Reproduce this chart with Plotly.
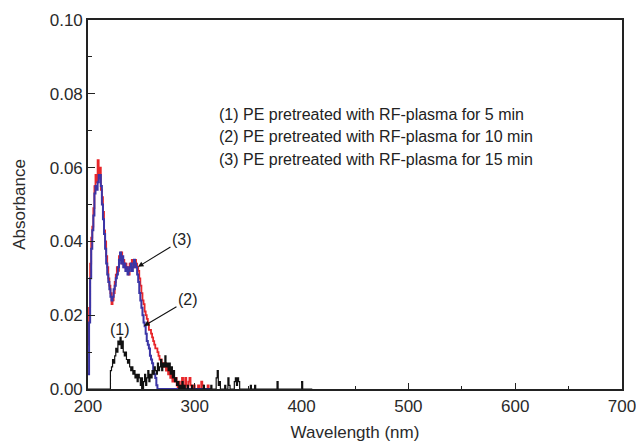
import plotly.graph_objects as go

# Absorbance spectra of PE films after RF-plasma pretreatment
wl = list(range(200, 316))  # wavelength grid, nm (red / blue spectra)

abs_15min = [
    0.012, 0.022, 0.034, 0.041, 0.044, 0.049, 0.055, 0.058, 0.056, 0.062,
    0.057, 0.060, 0.054, 0.052, 0.048, 0.043, 0.040, 0.036, 0.033, 0.030,
    0.028, 0.026, 0.023, 0.024, 0.026, 0.029, 0.031, 0.033, 0.032, 0.036,
    0.035, 0.037, 0.034, 0.035, 0.033, 0.034, 0.032, 0.033, 0.031, 0.034,
    0.033, 0.035, 0.034, 0.033, 0.035, 0.034, 0.033, 0.032, 0.030, 0.028,
    0.026, 0.024, 0.023, 0.021, 0.020, 0.019, 0.018, 0.016, 0.016, 0.015,
    0.014, 0.013, 0.012, 0.011, 0.011, 0.010, 0.009, 0.008, 0.008, 0.007,
    0.007, 0.006, 0.007, 0.005, 0.006, 0.004, 0.005, 0.003, 0.004, 0.002,
    0.003, 0.002, 0.003, 0.001, 0.000, 0.002, 0.000, 0.001, 0.003, 0.001,
    0.000, 0.003, 0.001, 0.000, 0.002, 0.003, 0.001, 0.000, 0.000, 0.001,
    0.000, 0.000, 0.000, 0.001, 0.000, 0.000, 0.002, 0.001, 0.000, 0.000,
    0.000, 0.000, 0.001, 0.000, 0.000, 0.000,
]

abs_10min = [
    0.004, 0.018, 0.030, 0.038, 0.043, 0.047, 0.053, 0.055, 0.054, 0.056,
    0.058, 0.058, 0.055, 0.050, 0.046, 0.042, 0.038, 0.034, 0.031, 0.029,
    0.027, 0.025, 0.024, 0.025, 0.027, 0.028, 0.030, 0.031, 0.033, 0.035,
    0.037, 0.034, 0.036, 0.033, 0.034, 0.032, 0.033, 0.031, 0.032, 0.033,
    0.034, 0.032, 0.033, 0.035, 0.034, 0.033, 0.031, 0.029, 0.026, 0.024,
    0.022, 0.020, 0.018, 0.017, 0.015, 0.013, 0.012, 0.011, 0.009, 0.008,
    0.007, 0.005, 0.004, 0.003, 0.001, 0.000, 0.000, 0.000, 0.000, 0.000,
    0.000, 0.000, 0.000, 0.000, 0.000, 0.000, 0.000, 0.000, 0.000, 0.000,
    0.000, 0.000, 0.000, 0.000, 0.000, 0.000, 0.000, 0.000, 0.000, 0.000,
    0.000, 0.000, 0.000, 0.000, 0.000, 0.000, 0.000, 0.000, 0.000, 0.000,
    0.000, 0.000, 0.000, 0.000, 0.000, 0.000, 0.000, 0.000, 0.000, 0.000,
    0.000, 0.000, 0.000, 0.000, 0.000, 0.000,
]

wl_5min = list(range(200, 411))  # wavelength grid, nm (black spectrum)
abs_5min = [
    # 200-219
    0, 0, 0, 0, 0, 0, 0, 0, 0, 0, 0, 0, 0, 0, 0, 0, 0, 0, 0, 0,
    # 220-259
    0.000, 0.005, 0.006, 0.008, 0.007, 0.009, 0.011, 0.010, 0.013, 0.012,
    0.014, 0.011, 0.013, 0.010, 0.009, 0.010, 0.008, 0.007, 0.008, 0.006,
    0.005, 0.006, 0.004, 0.005, 0.003, 0.004, 0.002, 0.004, 0.003, 0.001,
    0.003, 0.000, 0.002, 0.004, 0.001, 0.003, 0.005, 0.002, 0.004, 0.003,
    # 260-299
    0.005, 0.004, 0.006, 0.005, 0.004, 0.007, 0.005, 0.006, 0.008, 0.005,
    0.007, 0.006, 0.009, 0.006, 0.007, 0.005, 0.007, 0.004, 0.006, 0.003,
    0.005, 0.002, 0.003, 0.001, 0.002, 0.000, 0.001, 0.000, 0.002, 0.000,
    0.001, 0.000, 0.000, 0.001, 0.000, 0.000, 0.000, 0.001, 0.000, 0.000,
    # 300-339
    0.000, 0.000, 0.000, 0.000, 0.000, 0.000, 0.000, 0.000, 0.001, 0.000,
    0.000, 0.000, 0.000, 0.000, 0.000, 0.001, 0.000, 0.000, 0.000, 0.000,
    0.003, 0.005, 0.001, 0.002, 0.000, 0.000, 0.000, 0.000, 0.001, 0.000,
    0.000, 0.003, 0.001, 0.000, 0.000, 0.000, 0.000, 0.002, 0.003, 0.001,
    # 340-379
    0.003, 0.002, 0.000, 0.000, 0.000, 0.000, 0.000, 0.000, 0.000, 0.000,
    0.000, 0.000, 0.001, 0.000, 0.000, 0.000, 0.001, 0.000, 0.000, 0.000,
    0.000, 0.000, 0.000, 0.000, 0.000, 0.000, 0.000, 0.000, 0.000, 0.000,
    0.000, 0.000, 0.000, 0.000, 0.000, 0.000, 0.000, 0.002, 0.000, 0.000,
    # 380-410
    0.000, 0.000, 0.000, 0.000, 0.000, 0.000, 0.000, 0.000, 0.000, 0.000,
    0.000, 0.000, 0.000, 0.000, 0.000, 0.000, 0.000, 0.000, 0.000, 0.000,
    0.002, 0.000, 0.000, 0.000, 0.000, 0.000, 0.000, 0.000, 0.000, 0.000,
    0.000,
]

legend_lines = [
    "(1) PE pretreated with RF-plasma for 5 min",
    "(2) PE pretreated with RF-plasma for 10 min",
    "(3) PE pretreated with RF-plasma for 15 min",
]

FONT = "Liberation Sans, Arial, sans-serif"

fig = go.Figure()
fig.add_trace(go.Scatter(x=wl, y=abs_15min, mode="lines",
                         line=dict(color="#e8262a", width=1.8, shape="hv"), showlegend=False))
fig.add_trace(go.Scatter(x=wl, y=abs_10min, mode="lines",
                         line=dict(color="#3b35a6", width=2.0, shape="hv"), showlegend=False))
fig.add_trace(go.Scatter(x=wl_5min, y=abs_5min, mode="lines",
                         line=dict(color="#111111", width=1.2, shape="hv"), showlegend=False))

# Curve labels
fig.add_annotation(x=230, y=0.016, text="(1)", showarrow=False,
                   font=dict(family=FONT, size=16, color="#222"))
fig.add_annotation(x=252.4, y=0.0171, text="(2)", showarrow=True,
                   ax=44, ay=-26, arrowhead=2, arrowsize=1, arrowwidth=1.1,
                   arrowcolor="#111", font=dict(family=FONT, size=16, color="#222"))
fig.add_annotation(x=246.8, y=0.0331, text="(3)", showarrow=True,
                   ax=44, ay=-27, arrowhead=2, arrowsize=1, arrowwidth=1.1,
                   arrowcolor="#111", font=dict(family=FONT, size=16, color="#222"))

# Sample descriptions
for i, line in enumerate(legend_lines):
    fig.add_annotation(x=320.8, y=0.0743 - i * 0.006, text=line, showarrow=False,
                       xanchor="left", yanchor="middle",
                       font=dict(family=FONT, size=16, color="#222"))

axis_common = dict(
    showline=True, linecolor="#222", linewidth=1.6, mirror=True,
    ticks="inside", tickcolor="#222", tickwidth=1.3,
    showgrid=False, zeroline=False,
    tickfont=dict(family=FONT, size=17, color="#2a2a2a"),
    ticklabeloverflow="allow",
)

fig.update_xaxes(range=[200, 700], tick0=200, dtick=100, ticklen=6,
                 ticklabelstandoff=1,
                 minor=dict(ticks="inside", dtick=50, ticklen=3, tickcolor="#222", tickwidth=1.2),
                 title=dict(text="Wavelength (nm)", standoff=18,
                            font=dict(family=FONT, size=17, color="#2a2a2a")),
                 **axis_common)
fig.update_yaxes(range=[0, 0.10], tick0=0, dtick=0.02, tickformat=".2f", ticklen=7,
                 minor=dict(ticks="inside", dtick=0.01, ticklen=4, tickcolor="#222", tickwidth=1.2),
                 title=dict(text="Absorbance", standoff=20,
                            font=dict(family=FONT, size=17, color="#2a2a2a")),
                 **axis_common)

fig.update_layout(
    width=636, height=442,
    margin=dict(l=88, r=14, t=20, b=53, autoexpand=False),
    paper_bgcolor="white", plot_bgcolor="white",
)

fig.write_html("out.html")
